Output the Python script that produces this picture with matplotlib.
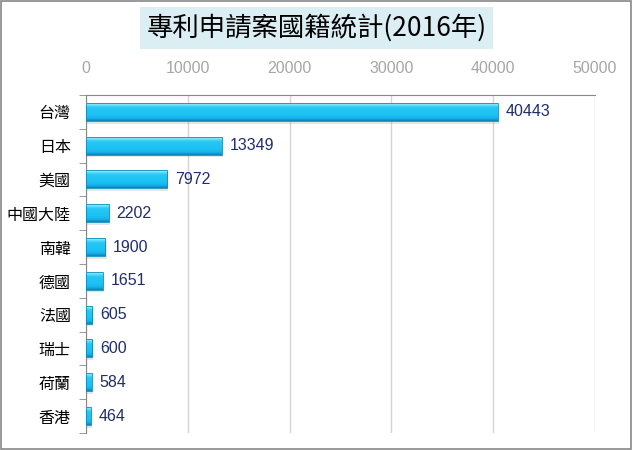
import numpy as np
import matplotlib.pyplot as plt
from matplotlib.colors import LinearSegmentedColormap
from matplotlib.patches import Rectangle

plt.rcParams['font.family'] = ['Noto Sans CJK TC', 'DejaVu Sans']

paises = ['台灣', '日本', '美國', '中國大陸', '南韓', '德國', '法國', '瑞士', '荷蘭', '香港']
casos = [40443, 13349, 7972, 2202, 1900, 1651, 605, 600, 584, 464]
ticks_x = [0, 10000, 20000, 30000, 40000, 50000]

fig = plt.figure(figsize=(6.33, 4.5), dpi=100)
ax = fig.add_axes([0.136, 0.038, 0.804, 0.751])

# degradê vertical das barras: faixa clara em cima, corpo ciano, borda escura embaixo
grad = LinearSegmentedColormap.from_list('barra', [
    (0.0, '#b5f1fd'), (0.12, '#5fdcfa'), (0.25, '#26c8f5'), (0.7, '#1bbff2'),
    (0.85, '#16b2ea'), (1.0, '#0a82b4')])
img = np.linspace(0, 1, 64).reshape(-1, 1)

altura = 0.53
for i, v in enumerate(casos):
    # sombra
    ax.add_patch(Rectangle((120, i - altura / 2 + 0.08), v, altura,
                           facecolor='#9a9a9a', alpha=0.25, edgecolor='none', zorder=2))
    im = ax.imshow(img, cmap=grad, aspect='auto', zorder=3,
                   extent=(0, v, i + altura / 2, i - altura / 2), interpolation='bilinear')
    r = Rectangle((0, i - altura / 2), v, altura, facecolor='none', edgecolor='#0e8cbc', lw=0.6, zorder=4)
    ax.add_patch(r)
    im.set_clip_path(r)
    ax.annotate(str(v), (v, i), xytext=(5.5, 0), textcoords='offset points',
                va='center', ha='left', fontsize=11.5, color='#1f2d6b', family=['Liberation Sans', 'DejaVu Sans'])

ax.set_xlim(0, 50000)
ax.set_ylim(len(casos) - 0.5, -0.5)
ax.set_xticks(ticks_x)
ax.set_xticklabels([str(t) for t in ticks_x], color='#a6a6a6', fontsize=11.5,
                   family=['Liberation Sans', 'DejaVu Sans'])
ax.xaxis.tick_top()
ax.tick_params(axis='x', length=0, pad=14)
ax.grid(axis='x', color='#d4d4d4', lw=1)
ax.set_axisbelow(True)

ax.set_yticks(range(len(casos)))
ax.set_yticklabels(paises, fontsize=11.5, color='black')
ax.tick_params(axis='y', which='major', length=0, pad=11)
ax.set_yticks(np.arange(-0.5, len(casos), 1), minor=True)
ax.tick_params(axis='y', which='minor', length=5, color='#888888', direction='out')

for lado in ['right', 'bottom']:
    ax.spines[lado].set_visible(False)
ax.spines['top'].set_color('#888888')
ax.spines['left'].set_color('#888888')

fig.text(0.5, 0.938, '專利申請案國籍統計(2016年)', ha='center', va='center', fontsize=19,
         family=['Noto Sans CJK TC', 'DejaVu Sans'],
         bbox=dict(facecolor='#daeef3', edgecolor='none', pad=5))

fig.patches.append(Rectangle((0.002, 0.003), 0.995, 0.994, transform=fig.transFigure,
                             fill=False, edgecolor='#888888', lw=1.2))

plt.savefig('out.png', dpi=100)
